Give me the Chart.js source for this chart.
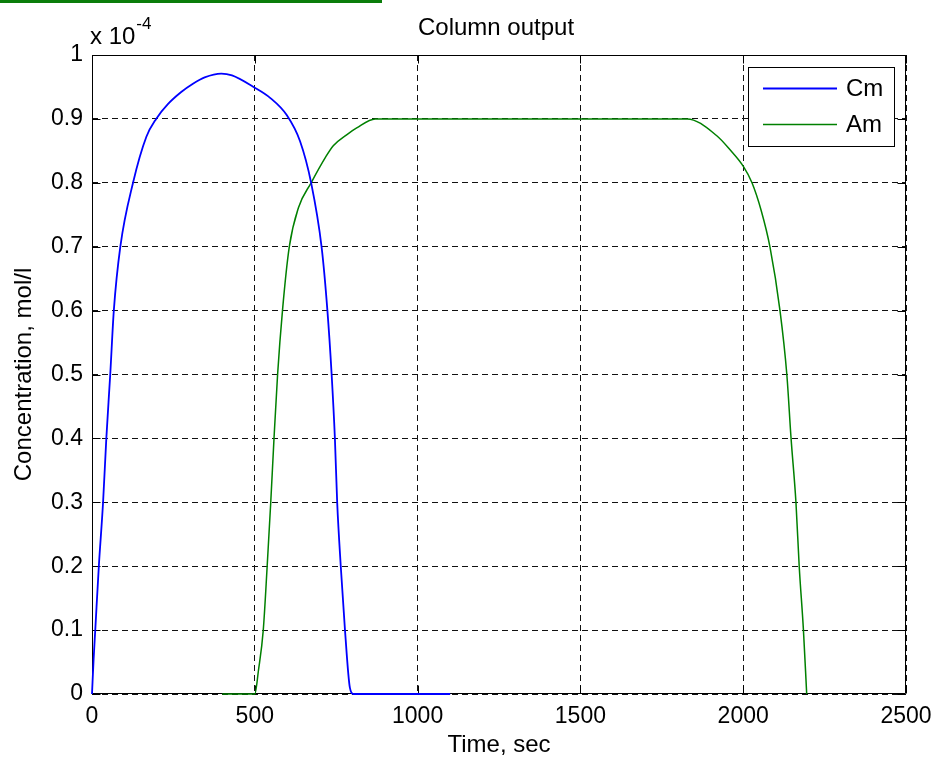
<!DOCTYPE html>
<html><head><meta charset="utf-8">
<script src="https://cdn.jsdelivr.net/npm/chart.js@4"></script>
<style>
html,body{margin:0;padding:0;background:#fff;}
#wrap{position:relative;width:933px;height:760px;overflow:hidden;}
#bar{position:absolute;left:0;top:0;width:382px;height:3px;background:#0a7d0a;}
</style></head><body>
<div id="wrap"><canvas id="c" width="933" height="760"></canvas><div id="bar"></div></div>
<script>
// ---- data (concentration in units of 1e-4 mol/l) ----
const seriesNames = ['Cm', 'Am'];
const cmTime  = [0, 5, 10, 21, 34, 44, 56, 67, 87, 126, 167, 197, 233, 274, 310, 346, 397, 430, 496, 547, 598, 639, 673, 705, 723, 736, 746, 753, 764, 777, 792, 803, 1100];
const cmValue = [0, 0.055, 0.1, 0.2, 0.3, 0.4, 0.5, 0.6, 0.7, 0.8, 0.872, 0.9, 0.923, 0.942, 0.955, 0.965, 0.971, 0.968, 0.950, 0.933, 0.906, 0.865, 0.8, 0.7, 0.6, 0.5, 0.4, 0.3, 0.2, 0.1, 0.01, 0, 0];
const amTime  = [400, 500, 511, 526, 538, 549, 559, 570, 585, 606, 634, 673, 716, 741, 782, 813, 870, 1828, 1918, 1959, 2000, 2027, 2055, 2082, 2113, 2134, 2147, 2162, 2172, 2185, 2195];
const amValue = [0, 0, 0.036, 0.1, 0.2, 0.3, 0.4, 0.5, 0.6, 0.7, 0.761, 0.8, 0.839, 0.858, 0.875, 0.886, 0.9, 0.9, 0.874, 0.852, 0.826, 0.8, 0.757, 0.7, 0.6, 0.5, 0.4, 0.3, 0.2, 0.1, 0];
const xTicks = [0, 500, 1000, 1500, 2000, 2500];
const yTicks = [0, 0.1, 0.2, 0.3, 0.4, 0.5, 0.6, 0.7, 0.8, 0.9, 1];
const yTickLabels = ['0', '0.1', '0.2', '0.3', '0.4', '0.5', '0.6', '0.7', '0.8', '0.9', '1'];
const titleText = 'Column output';
const xTitle = 'Time, sec';
const yTitle = 'Concentration, mol/l';
const exponentBase = 'x 10';
const exponentPower = '-4';

const FONT = "'Liberation Sans', Arial, Helvetica, sans-serif";
const toPoints = (t, v) => t.map((x, i) => ({x: x, y: v[i]}));

const matlabBox = {
  id: 'matlabBox',
  beforeDatasetsDraw(chart) {
    const {ctx, chartArea: a, scales: {x, y}} = chart;
    ctx.save();
    ctx.strokeStyle = '#000';
    ctx.lineWidth = 1;
    ctx.setLineDash([]);
    ctx.beginPath();
    const L = Math.round(a.left) + 0.5, R = Math.round(a.right) - 0.5;
    const T = Math.round(a.top) + 0.5, B = Math.round(a.bottom) - 0.5;
    ctx.rect(L, T, R - L, B - T);
    const tl = 8;
    xTicks.forEach(v => {
      const px = Math.round(x.getPixelForValue(v)) + 0.5;
      ctx.moveTo(px, B); ctx.lineTo(px, B - tl);
      ctx.moveTo(px, T); ctx.lineTo(px, T + tl);
    });
    yTicks.forEach(v => {
      const py = Math.round(y.getPixelForValue(v)) + 0.5;
      ctx.moveTo(L, py); ctx.lineTo(L + tl, py);
      ctx.moveTo(R, py); ctx.lineTo(R - tl, py);
    });
    ctx.stroke();
    ctx.restore();
  },
  afterDraw(chart) {
    const {ctx, chartArea: a} = chart;
    ctx.save();
    ctx.fillStyle = '#000';
    ctx.font = '24px ' + FONT;
    ctx.textAlign = 'center';
    ctx.textBaseline = 'middle';
    ctx.fillText(titleText, (a.left + a.right) / 2 - 3, 28);
    ctx.textAlign = 'left';
    ctx.textBaseline = 'alphabetic';
    ctx.font = '24px ' + FONT;
    ctx.fillText(exponentBase, 90, 44);
    const w = ctx.measureText(exponentBase).width;
    ctx.font = '17px ' + FONT;
    ctx.fillText(exponentPower, 90 + w + 1, 29);
    const lx = 748.5, ly = 67.5, lw = 146, lh = 79;
    ctx.fillStyle = '#fff';
    ctx.fillRect(lx, ly, lw, lh);
    ctx.strokeStyle = '#000';
    ctx.lineWidth = 1;
    ctx.strokeRect(lx, ly, lw, lh);
    ctx.font = '24px ' + FONT;
    ctx.textBaseline = 'middle';
    chart.data.datasets.forEach((ds, i) => {
      const yy = 88.5 + i * 36;
      ctx.strokeStyle = ds.borderColor;
      ctx.lineWidth = ds.borderWidth;
      ctx.beginPath();
      ctx.moveTo(763, yy); ctx.lineTo(837, yy);
      ctx.stroke();
      ctx.fillStyle = '#000';
      ctx.fillText(ds.label, 846, yy + 1);
    });
    ctx.restore();
  }
};

new Chart(document.getElementById('c'), {
  type: 'line',
  data: {
    datasets: [
      {label: seriesNames[0], data: toPoints(cmTime, cmValue), borderColor: '#0000ff', borderWidth: 1.8, pointRadius: 0, cubicInterpolationMode: 'monotone', clip: false, fill: false},
      {label: seriesNames[1], data: toPoints(amTime, amValue), borderColor: '#008000', borderWidth: 1.5, pointRadius: 0, cubicInterpolationMode: 'monotone', clip: false, fill: false}
    ]
  },
  options: {
    responsive: false,
    animation: false,
    devicePixelRatio: 1,
    layout: {padding: {top: 55, right: 27, bottom: 0, left: 0}},
    plugins: {legend: {display: false}, title: {display: false}, tooltip: {enabled: false}},
    scales: {
      x: {
        type: 'linear', min: 0, max: 2500,
        afterBuildTicks: s => { s.ticks = xTicks.map(v => ({value: v})); },
        afterFit: s => { s.height = 66; s.paddingLeft = 0; s.paddingRight = 0; },
        ticks: {color: '#000', font: {family: FONT, size: 23}, padding: 9, maxRotation: 0, autoSkip: false, callback: v => String(v)},
        grid: {color: '#111', lineWidth: 1, drawTicks: false},
        border: {display: false, dash: [6, 4]},
        title: {display: true, text: xTitle, color: '#000', font: {family: FONT, size: 24}, padding: {top: 0, bottom: 0}}
      },
      y: {
        type: 'linear', min: 0, max: 1,
        afterBuildTicks: s => { s.ticks = yTicks.map(v => ({value: v})); },
        afterFit: s => { s.width = 92; s.paddingTop = 0; s.paddingBottom = 0; },
        ticks: {color: '#000', font: {family: FONT, size: 23}, padding: 9, autoSkip: false,
          callback: (v, i) => yTickLabels[i]},
        grid: {color: '#111', lineWidth: 1, drawTicks: false},
        border: {display: false, dash: [6, 4]},
        title: {display: true, text: yTitle, color: '#000', font: {family: FONT, size: 24}, padding: {top: 10, bottom: 0}}
      }
    }
  },
  plugins: [matlabBox]
});
</script>
</body></html>
